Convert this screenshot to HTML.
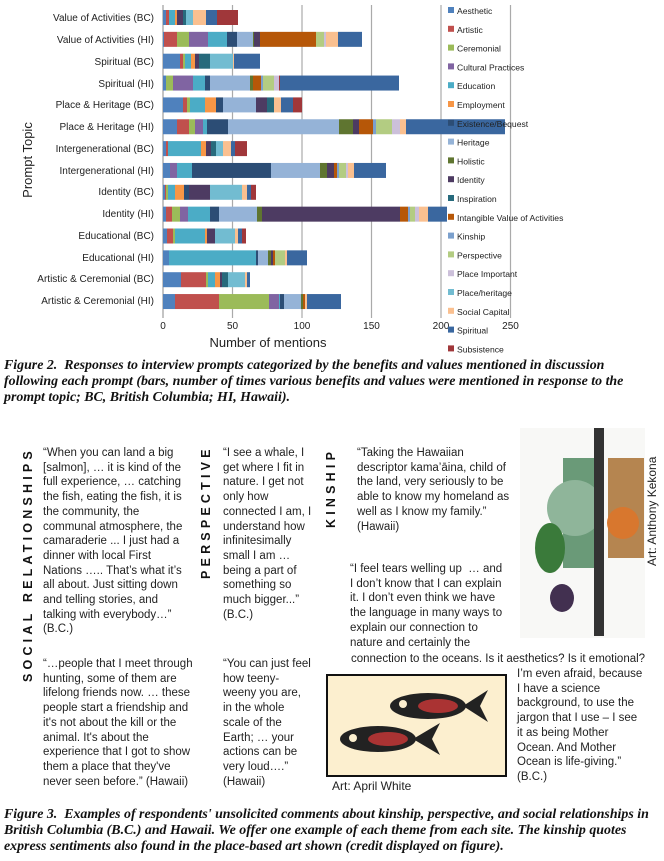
<!DOCTYPE html>
<html><head><meta charset="utf-8"><style>
body{margin:0;background:#fff;width:664px;height:861px;position:relative;overflow:hidden;font-family:"Liberation Sans",sans-serif;}
.q{position:absolute;font-size:11.5px;line-height:14.7px;color:#222;white-space:nowrap;}
.cap{position:absolute;left:4px;width:660px;font-family:"Liberation Serif",serif;font-style:italic;font-weight:bold;font-size:13.9px;line-height:16px;color:#111;white-space:nowrap;}
.vt{position:absolute;transform:rotate(-90deg);transform-origin:left top;font-weight:bold;font-size:12.5px;letter-spacing:4.2px;color:#111;white-space:nowrap;}
</style></head><body>
<svg id="ch" width="664" height="356" style="position:absolute;left:0;top:0" font-family="Liberation Sans,sans-serif">
<g stroke="#aaa" stroke-width="1.2">
<line x1="232.5" y1="5" x2="232.5" y2="318"/><line x1="302" y1="5" x2="302" y2="318"/><line x1="371.5" y1="5" x2="371.5" y2="318"/><line x1="441" y1="5" x2="441" y2="318"/><line x1="510.5" y1="5" x2="510.5" y2="318"/></g>
<line x1="163" y1="5" x2="163" y2="318" stroke="#888"/>
<g id="bars"></g>
<g font-size="10" fill="#222" text-anchor="end">
<text x="154" y="21">Value of Activities (BC)</text>
<text x="154" y="43">Value of Activities (HI)</text>
<text x="154" y="65">Spiritual (BC)</text>
<text x="154" y="87">Spiritual (HI)</text>
<text x="154" y="108">Place &amp; Heritage (BC)</text>
<text x="154" y="130">Place &amp; Heritage (HI)</text>
<text x="154" y="152">Intergenerational (BC)</text>
<text x="154" y="174">Intergenerational (HI)</text>
<text x="154" y="195">Identity (BC)</text>
<text x="154" y="217">Identity (HI)</text>
<text x="154" y="239">Educational (BC)</text>
<text x="154" y="261">Educational (HI)</text>
<text x="154" y="282">Artistic &amp; Ceremonial (BC)</text>
<text x="154" y="304">Artistic &amp; Ceremonial (HI)</text>
</g>
<g font-size="10" fill="#222" text-anchor="middle">
<text x="163" y="329">0</text><text x="232.5" y="329">50</text><text x="302" y="329">100</text><text x="371.5" y="329">150</text><text x="441" y="329">200</text><text x="510.5" y="329">250</text></g>
<text x="268" y="347" font-size="13" text-anchor="middle" fill="#222">Number of mentions</text>
<text transform="translate(32,160) rotate(-90)" font-size="13" text-anchor="middle" fill="#222">Prompt Topic</text>
<g id="leg" font-size="8.6" fill="#222"></g>
</svg>

<div class="cap" style="top:358px">Figure 2.&nbsp; Responses to interview prompts categorized by the benefits and values mentioned in discussion<br>following each prompt (bars, number of times various benefits and values were mentioned in response to the<br>prompt topic; BC, British Columbia; HI, Hawaii).</div>

<div class="vt" style="left:21px;top:682px">SOCIAL RELATIONSHIPS</div>
<div class="vt" style="left:199px;top:579px">PERSPECTIVE</div>
<div class="vt" style="left:324px;top:528px">KINSHIP</div>

<div class="q" style="left:43px;top:446px">“When you can land a big<br>[salmon], … it is kind of the<br>full experience, … catching<br>the fish, eating the fish, it is<br>the community, the<br>communal atmosphere, the<br>camaraderie ... I just had a<br>dinner with local First<br>Nations ….. That’s what it’s<br>all about. Just sitting down<br>and telling stories, and<br>talking with everybody…”<br>(B.C.)</div>
<div class="q" style="left:223px;top:446px">“I see a whale, I<br>get where I fit in<br>nature. I get not<br>only how<br>connected I am, I<br>understand how<br>infinitesimally<br>small I am …<br>being a part of<br>something so<br>much bigger...”<br>(B.C.)</div>
<div class="q" style="left:357px;top:446px">“Taking the Hawaiian<br>descriptor kama’āina, child of<br>the land, very seriously to be<br>able to know my homeland as<br>well as I know my family.”<br>(Hawaii)</div>
<div class="q" style="left:350px;top:562px">“I feel tears welling up &nbsp;… and<br>I don’t know that I can explain<br>it. I don’t even think we have<br>the language in many ways to<br>explain our connection to<br>nature and certainly the</div>
<div class="q" style="left:351px;top:652px">connection to the oceans. Is it aesthetics? Is it emotional?</div>
<div class="q" style="left:517px;top:667px">I’m even afraid, because<br>I have a science<br>background, to use the<br>jargon that I use – I see<br>it as being Mother<br>Ocean. And Mother<br>Ocean is life-giving.”<br>(B.C.)</div>
<div class="q" style="left:43px;top:657px">“…people that I meet through<br>hunting, some of them are<br>lifelong friends now. … these<br>people start a friendship and<br>it's not about the kill or the<br>animal. It's about the<br>experience that I got to show<br>them a place that they've<br>never seen before.” (Hawaii)</div>
<div class="q" style="left:223px;top:657px">“You can just feel<br>how teeny-<br>weeny you are,<br>in the whole<br>scale of the<br>Earth; … your<br>actions can be<br>very loud….”<br>(Hawaii)</div>

<div style="position:absolute;left:326px;top:674px;width:177px;height:99px;background:#fcefcf;border:2px solid #111"></div>
<svg width="177" height="99" style="position:absolute;left:328px;top:676px">
<g fill="#222"><ellipse cx="100" cy="30" rx="38" ry="13"/><polygon points="135,30 160,14 152,30 160,46"/><ellipse cx="50" cy="63" rx="38" ry="13"/><polygon points="85,63 112,47 104,63 112,79"/></g>
<g fill="#a33"><ellipse cx="110" cy="30" rx="20" ry="7"/><ellipse cx="60" cy="63" rx="20" ry="7"/></g>
<g fill="#fcefcf"><circle cx="75" cy="28" r="4"/><circle cx="25" cy="62" r="4"/></g></svg>
<div class="q" style="left:332px;top:779px;font-size:12px">Art: April White</div>

<svg width="125" height="210" style="position:absolute;left:520px;top:428px">
<rect x="0" y="0" width="125" height="210" fill="#f8f8f6"/>
<rect x="43" y="30" width="36" height="110" fill="#6a9a78"/>
<circle cx="55" cy="80" r="28" fill="#8fb59a"/>
<rect x="88" y="30" width="36" height="100" fill="#b58550"/>
<circle cx="103" cy="95" r="16" fill="#d8772e"/>
<ellipse cx="30" cy="120" rx="15" ry="25" fill="#3a7a3a"/>
<ellipse cx="42" cy="170" rx="12" ry="14" fill="#423050"/>
<rect x="74" y="0" width="10" height="208" fill="#333"/>
</svg>
<div style="position:absolute;left:645px;top:566px;transform:rotate(-90deg);transform-origin:left top;font-size:12px;color:#222;white-space:nowrap">Art: Anthony Kekona</div>

<div class="cap" style="top:807px">Figure 3.&nbsp; Examples of respondents' unsolicited comments about kinship, perspective, and social relationships in<br>British Columbia (B.C.) and Hawaii. We offer one example of each theme from each site. The kinship quotes<br>express sentiments also found in the place-based art shown (credit displayed on figure).</div>

<script>
var C={b:"#4f81bd",r:"#c0504d",g:"#9bbb59",p:"#8064a2",t:"#4bacc6",o:"#f79646",n:"#2c4d75",lb:"#95b3d7",dg:"#5f7530",dp:"#4d3b62",dt:"#276a7c",do:"#b65708",k:"#7ba0cd",pe:"#b3cc82",pi:"#ccc0da",ph:"#72bcd1",sc:"#fac090",sp:"#3a679f",su:"#a0373a"};
var R=[
[[166,"b"],[169,"r"],[175,"t"],[177,"o"],[183,"dp"],[186,"dt"],[193,"ph"],[206,"sc"],[217,"sp"],[238,"su"]],
[[164,"b"],[177,"r"],[189,"g"],[208,"p"],[227,"t"],[237,"n"],[253,"lb"],[254,"dg"],[260,"dp"],[316,"do"],[324,"pe"],[326,"pi"],[338,"sc"],[362,"sp"]],
[[180,"b"],[183,"r"],[185,"g"],[191,"t"],[195,"o"],[199,"dp"],[210,"dt"],[233,"ph"],[234,"sc"],[260,"sp"]],
[[166,"b"],[173,"g"],[193,"p"],[205,"t"],[210,"n"],[250,"lb"],[253,"dg"],[261,"do"],[263,"k"],[274,"pe"],[279,"pi"],[280,"su"],[399,"sp"]],
[[183,"b"],[187,"r"],[190,"g"],[205,"t"],[216,"o"],[223,"n"],[256,"lb"],[267,"dp"],[274,"dt"],[281,"sc"],[293,"sp"],[302,"su"]],
[[177,"b"],[189,"r"],[195,"g"],[203,"p"],[207,"t"],[228,"n"],[339,"lb"],[353,"dg"],[359,"dp"],[373,"do"],[376,"k"],[392,"pe"],[400,"pi"],[406,"sc"],[505,"sp"]],
[[166,"b"],[168,"r"],[201,"t"],[206,"o"],[211,"dp"],[216,"dt"],[223,"ph"],[231,"sc"],[235,"sp"],[247,"su"]],
[[170,"b"],[177,"p"],[192,"t"],[271,"n"],[320,"lb"],[327,"dg"],[334,"dp"],[337,"do"],[339,"k"],[346,"pe"],[348,"pi"],[354,"sc"],[386,"sp"]],
[[165,"b"],[166,"r"],[168,"g"],[175,"t"],[184,"o"],[189,"n"],[210,"dp"],[242,"ph"],[247,"sc"],[251,"sp"],[256,"su"]],
[[166,"b"],[172,"r"],[180,"g"],[188,"p"],[210,"t"],[219,"n"],[257,"lb"],[262,"dg"],[400,"dp"],[408,"do"],[410,"k"],[415,"pe"],[419,"pi"],[428,"sc"],[447,"sp"]],
[[167,"b"],[173,"r"],[175,"g"],[205,"t"],[207,"o"],[215,"dp"],[235,"ph"],[238,"sc"],[242,"sp"],[246,"su"]],
[[169,"b"],[256,"t"],[258,"n"],[268,"lb"],[271,"dg"],[273,"dp"],[275,"do"],[285,"pe"],[287,"sc"],[307,"sp"]],
[[181,"b"],[206,"r"],[208,"g"],[215,"t"],[220,"o"],[222,"dp"],[228,"dt"],[245,"ph"],[247,"sc"],[250,"sp"]],
[[175,"b"],[219,"r"],[269,"g"],[279,"p"],[280,"t"],[284,"n"],[301,"lb"],[303,"dg"],[305,"do"],[307,"sc"],[341,"sp"]]];
var ns="http://www.w3.org/2000/svg",g=document.getElementById("bars");
R.forEach(function(row,i){var x=163,y=10+21.85*i;row.forEach(function(s){var r=document.createElementNS(ns,"rect");r.setAttribute("x",x);r.setAttribute("y",y);r.setAttribute("width",s[0]-x);r.setAttribute("height",15);r.setAttribute("fill",C[s[1]]);g.appendChild(r);x=s[0];});});
var L=[["Aesthetic","b"],["Artistic","r"],["Ceremonial","g"],["Cultural Practices","p"],["Education","t"],["Employment","o"],["Existence/Bequest","n"],["Heritage","lb"],["Holistic","dg"],["Identity","dp"],["Inspiration","dt"],["Intangible Value of Activities","do"],["Kinship","k"],["Perspective","pe"],["Place Important","pi"],["Place/heritage","ph"],["Social Capital","sc"],["Spiritual","sp"],["Subsistence","su"]];
var lg=document.getElementById("leg");
L.forEach(function(l,i){var y=11+18.8*i;var r=document.createElementNS(ns,"rect");r.setAttribute("x",448);r.setAttribute("y",y-4);r.setAttribute("width",6);r.setAttribute("height",6);r.setAttribute("fill",C[l[1]]);lg.appendChild(r);var t=document.createElementNS(ns,"text");t.setAttribute("x",457);t.setAttribute("y",y+3);t.textContent=l[0];lg.appendChild(t);});
</script>
</body></html>
